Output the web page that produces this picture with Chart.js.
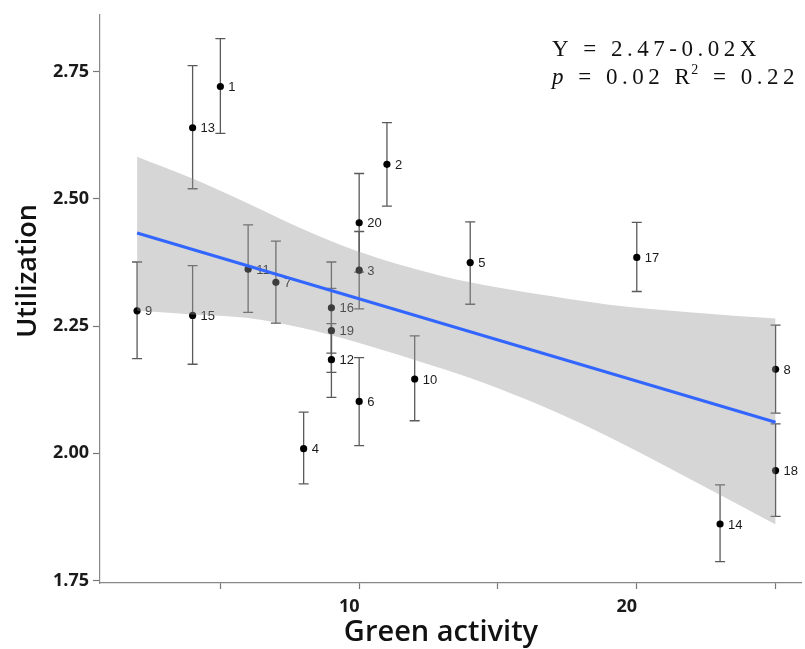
<!DOCTYPE html>
<html><head><meta charset="utf-8">
<script src="https://cdn.jsdelivr.net/npm/chart.js@4.4.1/dist/chart.umd.min.js"></script>
<style>html,body{margin:0;padding:0;background:#fff;} #wrap{width:805px;height:649px;}</style>
</head><body><div id="wrap"><canvas id="c" width="805" height="649"></canvas></div>
<script>
// ---- data ----
const siteIds       = ['1','2','3','4','5','6','7','8','9','10','11','12','13','14','15','16','17','18','19','20'];
const greenActivity = [5, 11, 10, 8, 14, 10, 7, 25, 2, 12, 6, 9, 4, 23, 4, 9, 20, 25, 9, 10];
const utilization   = [2.721, 2.568, 2.360, 2.009, 2.375, 2.102, 2.336, 2.165, 2.280, 2.146, 2.362, 2.184, 2.640, 1.861, 2.271, 2.286, 2.385, 1.966, 2.241, 2.453];
const utilLow       = [2.629, 2.486, 2.284, 1.940, 2.293, 2.015, 2.256, 2.079, 2.186, 2.064, 2.277, 2.110, 2.520, 1.787, 2.175, 2.197, 2.318, 1.876, 2.159, 2.356];
const utilHigh      = [2.815, 2.650, 2.436, 2.081, 2.455, 2.188, 2.417, 2.252, 2.376, 2.231, 2.449, 2.255, 2.762, 1.938, 2.369, 2.376, 2.454, 2.058, 2.324, 2.550];

const fitX = [2, 25];
const fitY = [2.433, 2.061];

const bandX     = [2, 4, 6, 8, 10, 13, 15, 17, 19, 22, 25];
const bandUpper = [2.583, 2.540, 2.491, 2.440, 2.396, 2.348, 2.326, 2.308, 2.292, 2.277, 2.265];
const bandLower = [2.280, 2.273, 2.266, 2.246, 2.217, 2.166, 2.128, 2.083, 2.032, 1.947, 1.860];

const xTickValues = [5, 10, 15, 20, 25];
const xTickLabels = ['', '10', '', '20', ''];
const yTickValues = [1.75, 2.00, 2.25, 2.50, 2.75];
const yTickLabels = ['1.75', '2.00', '2.25', '2.50', '2.75'];

const xTitle = 'Green activity';
const yTitle = 'Utilization';
const equationText = 'Y = 2.47-0.02X';
const statP = 'p';
const statPValue = ' = 0.02 R';
const statSup = '2';
const statR2Value = ' = 0.22';

// ---- plugins ----
const errorBarPlugin = {
  id: 'errbars',
  beforeDatasetDraw(chart, args) {
    if (args.index !== 0) return;
    const ctx = chart.ctx, xs = chart.scales.x, ys = chart.scales.y;
    ctx.save();
    ctx.strokeStyle = '#5a5a5a';
    ctx.lineWidth = 1.3;
    for (let i = 0; i < greenActivity.length; i++) {
      const px = xs.getPixelForValue(greenActivity[i]);
      const pl = ys.getPixelForValue(utilLow[i]);
      const ph = ys.getPixelForValue(utilHigh[i]);
      ctx.beginPath();
      ctx.moveTo(px, pl); ctx.lineTo(px, ph);
      ctx.moveTo(px - 5, pl); ctx.lineTo(px + 5, pl);
      ctx.moveTo(px - 5, ph); ctx.lineTo(px + 5, ph);
      ctx.stroke();
    }
    ctx.restore();
  },
  afterDatasetDraw(chart, args) {
    if (args.index !== 0) return;
    const ctx = chart.ctx, xs = chart.scales.x, ys = chart.scales.y;
    ctx.save();
    ctx.fillStyle = '#1a1a1a';
    ctx.font = '13px "Liberation Sans", Arial, sans-serif';
    ctx.textBaseline = 'middle';
    ctx.textAlign = 'left';
    for (let i = 0; i < greenActivity.length; i++) {
      const px = xs.getPixelForValue(greenActivity[i]);
      const py = ys.getPixelForValue(utilization[i]);
      ctx.fillText(siteIds[i], px + 8, py + 1);
    }
    ctx.restore();
  },
  afterDraw(chart) {
    const ctx = chart.ctx;
    // y axis title
    ctx.save();
    ctx.translate(28, 271);
    ctx.rotate(-Math.PI / 2);
    ctx.fillStyle = '#111';
    ctx.font = '600 27px "Open Sans", sans-serif';
    ctx.textAlign = 'center';
    ctx.textBaseline = 'middle';
    ctx.fillText(yTitle, 0, 0);
    ctx.restore();

    // x axis title
    ctx.save();
    ctx.fillStyle = '#111';
    ctx.font = '600 29px "Open Sans", sans-serif';
    ctx.textAlign = 'center';
    ctx.textBaseline = 'middle';
    ctx.fillText(xTitle, 441, 633);
    ctx.restore();

    ctx.save();
    ctx.fillStyle = '#111';
    ctx.textBaseline = 'alphabetic';
    ctx.textAlign = 'left';
    ctx.letterSpacing = '4.5px';
    ctx.font = '23px "Liberation Serif", "Times New Roman", serif';
    ctx.fillText(equationText, 552, 56);
    let x = 552;
    const y2 = 84;
    ctx.font = 'italic 23px "Liberation Serif", "Times New Roman", serif';
    ctx.fillText(statP, x, y2);
    x += ctx.measureText(statP).width;
    ctx.font = '23px "Liberation Serif", "Times New Roman", serif';
    ctx.fillText(statPValue, x, y2);
    x += ctx.measureText(statPValue).width - 3;
    ctx.font = '14px "Liberation Serif", "Times New Roman", serif';
    ctx.fillText(statSup, x, y2 - 10);
    x += ctx.measureText(statSup).width;
    ctx.font = '23px "Liberation Serif", "Times New Roman", serif';
    ctx.fillText(statR2Value, x, y2);
    ctx.restore();
  }
};

const tickFont = { family: '"Open Sans", sans-serif', weight: 'bold', size: 18 };

new Chart(document.getElementById('c'), {
  data: {
    datasets: [
      {
        type: 'scatter',
        data: greenActivity.map((v, i) => ({ x: v, y: utilization[i] })),
        backgroundColor: '#000', borderColor: '#000',
        pointRadius: 3.6, pointHoverRadius: 3.6, borderWidth: 0,
        order: 3
      },
      {
        type: 'line',
        data: bandX.map((v, i) => ({ x: v, y: bandUpper[i] })),
        borderWidth: 0, pointRadius: 0, borderColor: 'rgba(0,0,0,0)',
        backgroundColor: 'rgba(153,153,153,0.4)',
        fill: '+1', cubicInterpolationMode: 'monotone',
        order: 1
      },
      {
        type: 'line',
        data: bandX.map((v, i) => ({ x: v, y: bandLower[i] })),
        borderWidth: 0, pointRadius: 0, borderColor: 'rgba(0,0,0,0)',
        fill: false, cubicInterpolationMode: 'monotone',
        order: 1
      },
      {
        type: 'line',
        data: fitX.map((v, i) => ({ x: v, y: fitY[i] })),
        borderColor: '#3366FF', borderWidth: 3, pointRadius: 0, fill: false,
        order: 0
      }
    ]
  },
  options: {
    responsive: false,
    animation: false,
    devicePixelRatio: 1,
    layout: { padding: { top: 10, right: 0, left: 0, bottom: 0 } },
    plugins: { legend: { display: false }, tooltip: { enabled: false } },
    scales: {
      x: {
        type: 'linear', min: 0.664, max: 25.93,
        afterBuildTicks: s => { s.ticks = xTickValues.map(v => ({ value: v })); },
        afterFit: s => { s.height = 66; },
        ticks: {
          callback: v => xTickLabels[xTickValues.indexOf(v)],
          font: tickFont, color: '#1a1a1a', labelOffset: -10, padding: 7,
          maxRotation: 0, autoSkip: false
        },
        grid: { drawOnChartArea: false, tickLength: 6, tickColor: '#777', tickWidth: 1.2 },
        border: { display: true, color: '#888', width: 1.2 }
      },
      y: {
        type: 'linear', min: 1.745, max: 2.862,
        afterBuildTicks: s => { s.ticks = yTickValues.map(v => ({ value: v })); },
        afterFit: s => { s.width = 100; },
        ticks: {
          callback: v => yTickLabels[yTickValues.indexOf(v)],
          font: tickFont, color: '#1a1a1a', padding: 4, autoSkip: false
        },
        grid: { drawOnChartArea: false, tickLength: 7, tickColor: '#777', tickWidth: 1.2 },
        border: { display: true, color: '#888', width: 1.2 }
      }
    }
  },
  plugins: [errorBarPlugin]
});
</script>
</body></html>
